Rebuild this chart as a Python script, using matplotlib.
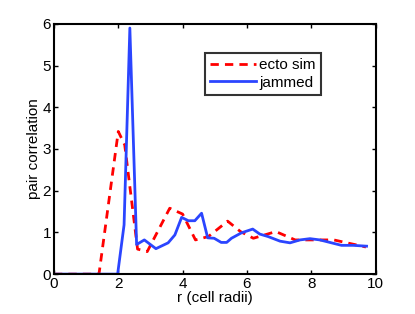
import matplotlib
matplotlib.use("Agg")
import matplotlib.pyplot as plt

plt.rcParams['font.family'] = ['Liberation Sans', 'DejaVu Sans']

ecto_r = [0.0, 1.4, 2.0, 2.2, 2.6, 2.9, 3.6, 4.0, 4.4, 4.8, 5.4, 5.8, 6.2, 6.9, 7.5, 8.0, 8.7, 9.7]
ecto_g = [0.0, 0.0, 3.42, 3.1, 0.6, 0.54, 1.58, 1.44, 0.82, 0.9, 1.27, 1.02, 0.86, 1.02, 0.82, 0.82, 0.82, 0.65]

jam_r = [0.0, 1.98, 2.18, 2.36, 2.57, 2.81, 3.17, 3.55, 3.76, 3.97, 4.18, 4.38, 4.59, 4.78, 4.98,
         5.2, 5.37, 5.52, 5.83, 6.18, 6.4, 6.66, 7.03, 7.34, 7.65, 7.96, 8.27, 8.63, 8.94, 9.3, 9.72]
jam_g = [0.0, 0.0, 1.18, 5.9, 0.71, 0.82, 0.61, 0.75, 0.94, 1.36, 1.28, 1.28, 1.46, 0.87, 0.86,
         0.76, 0.76, 0.86, 0.99, 1.08, 0.96, 0.9, 0.79, 0.75, 0.82, 0.85, 0.82, 0.75, 0.69, 0.69, 0.67]

xticks = [0, 2, 4, 6, 8, 10]
yticks = [0, 1, 2, 3, 4, 5, 6]

fig = plt.figure(figsize=(4.15, 3.14), dpi=100)
ax = fig.add_axes([0.130, 0.127, 0.775, 0.797])
ax.plot(ecto_r, ecto_g, color='#ff0000', linestyle=(0, (3, 2.2)), linewidth=2.0, label='ecto sim')
ax.plot(jam_r, jam_g, color='#2b45ff', linewidth=2.0, label='jammed')
ax.set_xlim(0, 10)
ax.set_ylim(0, 6)
ax.set_xticks(xticks)
ax.set_yticks(yticks)
ax.tick_params(direction='in', top=True, right=True, labelsize=11, length=3, width=1.0, pad=2)
for s in ax.spines.values():
    s.set_linewidth(1.5)
ax.set_xlabel('r (cell radii)', fontsize=11, labelpad=0)
ax.set_ylabel('pair correlation', fontsize=11, labelpad=1)
leg = ax.legend(loc='upper left', bbox_to_anchor=(0.47, 0.885), fontsize=11, frameon=True,
                fancybox=False, edgecolor='black', handlelength=3.0, handletextpad=0.2,
                borderpad=0.35, labelspacing=0.25, borderaxespad=0)
leg.get_frame().set_linewidth(1.5)
fig.savefig('out.png', dpi=100)
